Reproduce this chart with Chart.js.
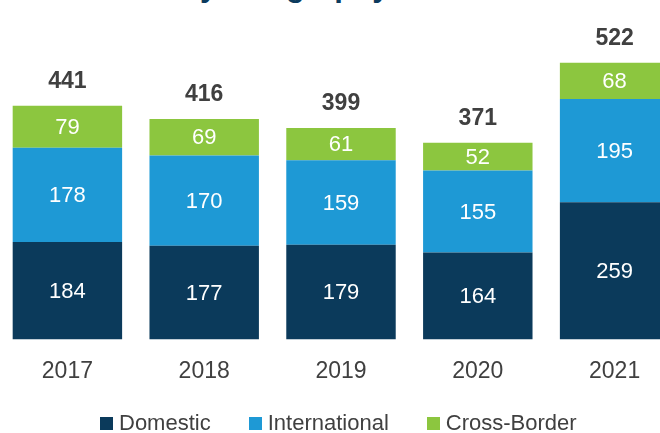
<!DOCTYPE html>
<html>
<head>
<meta charset="utf-8">
<script src="https://cdn.jsdelivr.net/npm/chart.js@4/dist/chart.umd.min.js"></script>
<style>
  html, body { margin: 0; padding: 0; overflow: hidden; background: #fff; }
  body { width: 660px; height: 433px; position: relative; font-family: "Liberation Sans", Arial, sans-serif; }
  .title { position: absolute; left: 181px; top: -30.5px; font-size: 31px; line-height: 31px; font-weight: bold; color: #0c3b5e; white-space: nowrap; }
  .wrap { position: absolute; left: -1px; top: 0; width: 684px; height: 433px; }
  .legend { position: absolute; left: 100px; top: 412px; height: 22px; display: flex; gap: 38px; font-size: 22px; line-height: 22px; color: #404040; }
  .legend span { display: flex; align-items: center; white-space: nowrap; }
  .legend i { display: inline-block; width: 13px; height: 13px; margin-right: 6px; }
</style>
</head>
<body>
<div class="title">by Geography</div>
<div class="wrap"><canvas id="myChart"></canvas></div>
<div class="legend" id="legend"></div>
<script>
(() => {
    'use strict'

    const years = ['2017', '2018', '2019', '2020', '2021']
    const domestic = [184, 177, 179, 164, 259]
    const international = [178, 170, 159, 155, 195]
    const crossBorder = [79, 69, 61, 52, 68]

    const seriesNames = ['Domestic', 'International', 'Cross-Border']
    const colors = ['#0b3a5b', '#1e99d5', '#8cc63f']

    // value labels inside the segments and totals on top
    const barLabels = {
        id: 'barLabels',
        afterDatasetsDraw(chart) {
            const ctx = chart.ctx
            ctx.save()
            ctx.textAlign = 'center'
            ctx.textBaseline = 'middle'
            ctx.fillStyle = '#ffffff'
            ctx.font = '22px "Liberation Sans", Arial, sans-serif'
            chart.data.datasets.forEach((ds, i) => {
                chart.getDatasetMeta(i).data.forEach((bar, j) => {
                    const p = bar.getProps(['x', 'y', 'base'], true)
                    ctx.fillText(ds.data[j], p.x, (p.y + p.base) / 2 + 1)
                })
            })
            const last = chart.data.datasets.length - 1
            ctx.fillStyle = '#404040'
            ctx.font = 'bold 23px "Liberation Sans", Arial, sans-serif'
            chart.getDatasetMeta(last).data.forEach((bar, j) => {
                const p = bar.getProps(['x', 'y'], true)
                const total = domestic[j] + international[j] + crossBorder[j]
                ctx.fillText(total, p.x, p.y - 24)
            })
            ctx.restore()
        }
    }

    const ctx = document.getElementById('myChart')
    // eslint-disable-next-line no-unused-vars
    const myChart = new Chart(ctx, {
        type: 'bar',
        data: {
            labels: years,
            datasets: [domestic, international, crossBorder].map((d, i) => ({
                label: seriesNames[i],
                data: d,
                backgroundColor: colors[i],
                borderWidth: 0,
                barPercentage: 0.8,
                categoryPercentage: 1
            }))
        },
        options: {
            responsive: true,
            maintainAspectRatio: false,
            animation: false,
            layout: {
                padding: { top: 21.5, left: 0, right: 0, bottom: 0 }
            },
            scales: {
                x: {
                    stacked: true,
                    grid: { display: false, drawTicks: false },
                    border: { display: false },
                    ticks: {
                        color: '#404040',
                        padding: 18.5,
                        font: { family: '"Liberation Sans", Arial, sans-serif', size: 23 }
                    },
                    afterFit: (scale) => { scale.height = 93.5 }
                },
                y: {
                    stacked: true,
                    display: false,
                    min: 0,
                    max: 600
                }
            },
            plugins: {
                legend: { display: false },
                title: { display: false },
                tooltip: { enabled: false }
            }
        },
        plugins: [barLabels]
    })

    const legend = document.getElementById('legend')
    seriesNames.forEach((name, i) => {
        const item = document.createElement('span')
        item.innerHTML = '<i style="background:' + colors[i] + '"></i>' + name
        legend.appendChild(item)
    })
})()
</script>
</body>
</html>
